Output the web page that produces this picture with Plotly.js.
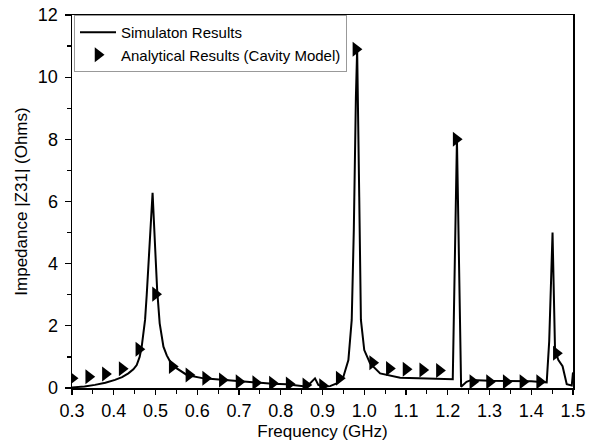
<!DOCTYPE html>
<html>
<head>
<meta charset="utf-8">
<script src="https://cdn.plot.ly/plotly-3.0.1.min.js"></script>
<style>html,body{margin:0;padding:0;background:#fff;}#chart{width:599px;height:442px;}</style>
</head>
<body>
<div id="chart"></div>
<script>
// Simulation results (frequency GHz, |Z31| Ohms)
const simFreq = [0.30,0.33,0.355,0.38,0.403,0.42,0.435,0.447,0.455,0.462,0.467,0.472,0.475,0.479,0.483,0.488,0.493,
  0.499,0.504,0.51,0.519,0.527,0.535,0.551,0.575,0.615,0.662,0.70,0.734,0.78,0.814,0.854,0.87,0.882,0.89,0.902,0.918,0.934,
  0.95,0.962,0.97,0.975,0.98,0.983,0.988,0.992,1.0,1.014,1.038,1.086,1.13,1.165,1.212,1.222,1.232,1.245,1.257,1.30,1.35,1.40,
  1.437,1.443,1.451,1.457,1.465,1.475,1.485,1.497,1.50];
const simZ = [0.02,0.05,0.10,0.17,0.26,0.35,0.47,0.60,0.74,1.00,1.33,1.80,2.19,3.00,4.00,5.20,6.28,
  4.55,3.15,2.08,1.33,1.05,0.85,0.63,0.42,0.31,0.26,0.21,0.18,0.14,0.12,0.06,0.15,0.31,0.10,0.04,0.06,0.15,
  0.36,0.90,2.19,5.08,9.37,10.9,6.15,2.19,1.22,0.79,0.47,0.33,0.31,0.30,0.28,8.0,0.04,0.20,0.26,0.23,0.22,0.22,
  0.18,1.5,5.0,1.2,0.9,0.7,0.12,0.08,0.5];
// Analytical results (cavity model)
const anaFreq = [0.30,0.34,0.38,0.42,0.46,0.50,0.54,0.58,0.62,0.66,0.70,0.74,0.78,0.82,0.86,0.90,0.94,0.98,
  1.02,1.06,1.10,1.14,1.18,1.22,1.26,1.30,1.34,1.38,1.42,1.46];
const anaZ = [0.31,0.36,0.45,0.62,1.25,3.02,0.69,0.42,0.31,0.26,0.20,0.17,0.15,0.13,0.10,0.07,0.31,10.9,
  0.81,0.63,0.60,0.58,0.56,8.0,0.20,0.20,0.20,0.20,0.20,1.12];
const xTickVals = [0.3,0.4,0.5,0.6,0.7,0.8,0.9,1.0,1.1,1.2,1.3,1.4,1.5];
const xTickText = ["0.3","0.4","0.5","0.6","0.7","0.8","0.9","1.0","1.1","1.2","1.3","1.4","1.5"];
const yTickVals = [0,2,4,6,8,10,12];

const FONT = "Liberation Sans, Arial, sans-serif";
const traces = [
  {x: simFreq, y: simZ, type: "scatter", mode: "lines", name: "Simulaton Results",
   line: {color: "#000", width: 2}},
  {x: anaFreq, y: anaZ, type: "scatter", mode: "markers", name: "Analytical Results (Cavity Model)",
   marker: {symbol: "triangle-right", size: 13, color: "#000"}}
];
const layout = {
  width: 599, height: 442,
  margin: {l: 72, r: 26, t: 15, b: 54},
  paper_bgcolor: "#fff", plot_bgcolor: "#fff",
  font: {family: FONT, color: "#000"},
  showlegend: true,
  legend: {x: 0.004, y: 1, xanchor: "left", yanchor: "top", bgcolor: "#fff",
    bordercolor: "#999", borderwidth: 1, font: {size: 15, family: FONT}, tracegroupgap: 0,
    itemwidth: 36},
  xaxis: {range: [0.3, 1.5], tickvals: xTickVals, ticktext: xTickText,
    showgrid: false, zeroline: false, showline: true, linecolor: "#000", linewidth: 1.5, mirror: true,
    ticks: "outside", ticklen: 5, tickwidth: 1.2, tickcolor: "#000",
    minor: {dtick: 0.05, ticks: "outside", ticklen: 4, tickwidth: 1.2, tickcolor: "#000", showgrid: false},
    tickfont: {size: 18, family: FONT}, ticklabelstandoff: 1,
    title: {text: "Frequency (GHz)", font: {size: 17, family: FONT}, standoff: 5}},
  yaxis: {range: [0, 12], tickvals: yTickVals,
    showgrid: false, zeroline: false, showline: true, linecolor: "#000", linewidth: 1.5, mirror: true,
    ticks: "outside", ticklen: 6, tickwidth: 1.2, tickcolor: "#000",
    minor: {dtick: 1, ticks: "outside", ticklen: 4, tickwidth: 1.2, tickcolor: "#000", showgrid: false},
    tickfont: {size: 18, family: FONT}, ticklabelstandoff: 3,
    title: {text: "Impedance |Z31| (Ohms)", font: {size: 17, family: FONT}, standoff: 6}}
};
Plotly.newPlot("chart", traces, layout, {displayModeBar: false, staticPlot: true});
</script>
</body>
</html>
